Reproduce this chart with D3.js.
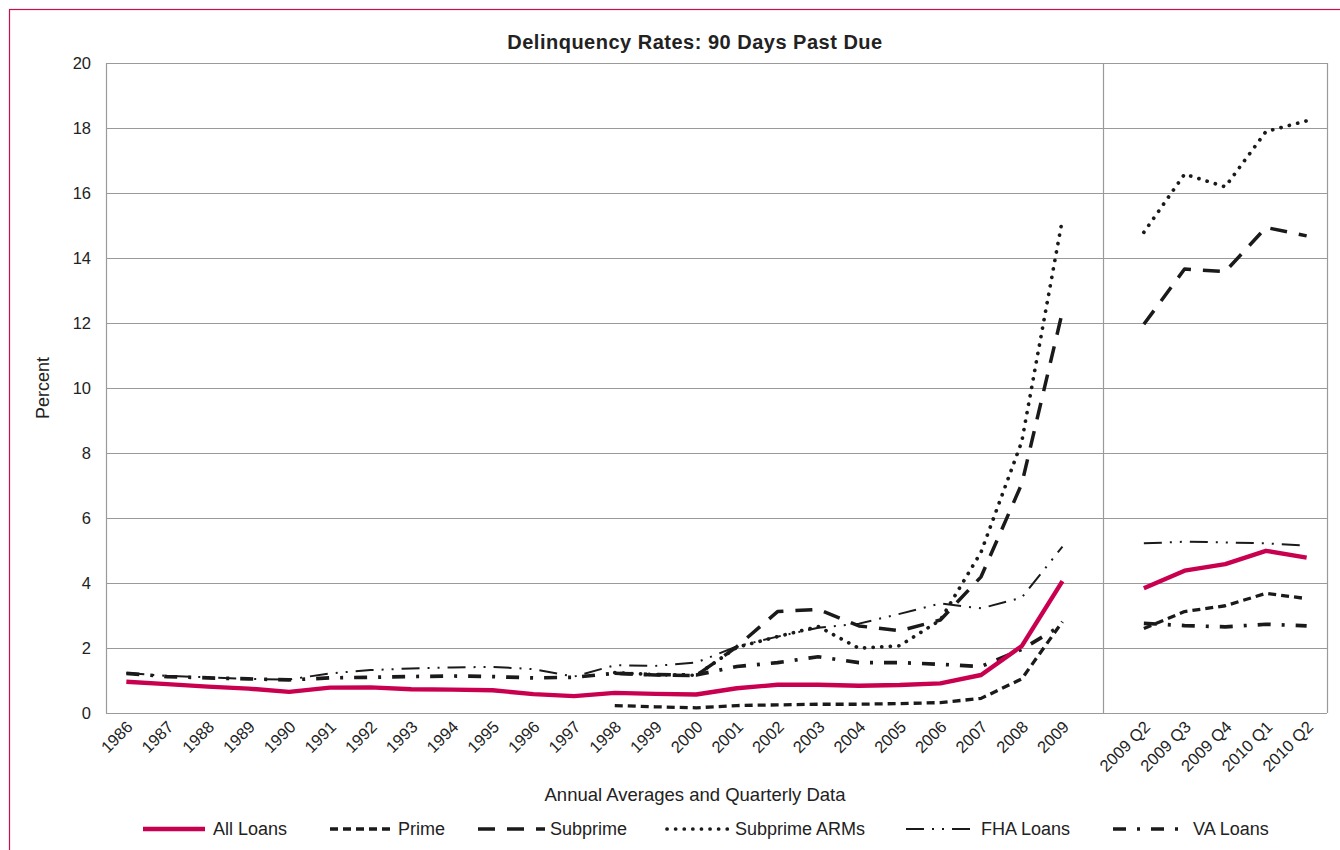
<!DOCTYPE html>
<html><head><meta charset="utf-8">
<script src="https://cdn.jsdelivr.net/npm/d3@7"></script>
<style>body{margin:0;background:#fff}svg{display:block}text{font-family:"Liberation Sans",Arial,Helvetica,sans-serif;fill:#222}</style>
</head><body><svg id="c" width="1340" height="850"></svg>
<script>
const years = ["1986","1987","1988","1989","1990","1991","1992","1993","1994","1995","1996","1997","1998","1999","2000","2001","2002","2003","2004","2005","2006","2007","2008","2009"];
const quarters = ["2009 Q2","2009 Q3","2009 Q4","2010 Q1","2010 Q2"];
const yTicks = [0,2,4,6,8,10,12,14,16,18,20];

const allLoansAnnual = [0.96,0.89,0.81,0.75,0.65,0.78,0.79,0.73,0.72,0.70,0.58,0.52,0.62,0.59,0.57,0.76,0.87,0.87,0.84,0.86,0.91,1.17,2.06,4.06];
const allLoansQ = [3.84,4.38,4.58,4.99,4.78];
const primeAnnual = [null,null,null,null,null,null,null,null,null,null,null,null,0.23,0.19,0.16,0.23,0.25,0.27,0.27,0.29,0.32,0.45,1.05,2.81];
const primeQ = [2.60,3.12,3.30,3.68,3.52];
const subprimeAnnual = [null,null,null,null,null,null,null,null,null,null,null,null,1.22,1.17,1.15,2.04,3.12,3.19,2.68,2.53,2.86,4.19,7.05,12.35];
const subprimeQ = [11.96,13.66,13.58,14.94,14.68];
const armsAnnual = [null,null,null,null,null,null,null,null,null,null,null,null,1.24,1.18,1.16,2.02,2.35,2.66,1.99,2.07,2.86,4.95,8.35,15.2];
const armsQ = [14.79,16.58,16.19,17.89,18.22];
const fhaAnnual = [1.23,1.14,1.10,1.05,1.03,1.22,1.32,1.37,1.40,1.42,1.35,1.12,1.47,1.45,1.55,2.05,2.35,2.62,2.75,3.05,3.37,3.22,3.55,5.12];
const fhaQ = [5.22,5.27,5.25,5.22,5.15];
const vaAnnual = [1.22,1.12,1.08,1.05,1.02,1.08,1.10,1.12,1.14,1.12,1.08,1.10,1.22,1.18,1.17,1.43,1.55,1.73,1.55,1.55,1.50,1.43,1.96,2.71];
const vaQ = [2.76,2.69,2.65,2.73,2.68];

const seriesNames = ["All Loans","Prime","Subprime","Subprime ARMs","FHA Loans","VA Loans"];

const svg = d3.select("#c");
const M = {left:106, right:1327, top:63, bottom:713};
const cats = [...years, "__gap__", ...quarters];
const x = d3.scalePoint().domain(cats).range([M.left, M.right]).padding(0.5);
const y = d3.scaleLinear().domain([0,20]).range([M.bottom, M.top]);

// outer border
svg.append("rect").attr("x",9.5).attr("y",9.5).attr("width",1340).attr("height",850)
  .attr("fill","none").attr("stroke","#C8104F").attr("stroke-width",1.2);

// gridlines
svg.append("g").selectAll("line").data(yTicks).join("line")
  .attr("x1",M.left).attr("x2",M.right).attr("y1",d=>y(d)+0.5).attr("y2",d=>y(d)+0.5)
  .attr("stroke","#9a9a9a").attr("stroke-width",1.2);
const gapX = x("__gap__");
[M.left, M.right, gapX].forEach(v=>{
  svg.append("line").attr("x1",Math.round(v)+0.5).attr("x2",Math.round(v)+0.5).attr("y1",M.top).attr("y2",M.bottom)
    .attr("stroke","#9a9a9a").attr("stroke-width",1.2);
});

// y axis
const yAxis = d3.axisLeft(y).tickValues(yTicks).tickSize(0).tickPadding(15);
const gy = svg.append("g").attr("transform",`translate(${M.left},0)`).call(yAxis);
gy.select(".domain").remove();
gy.selectAll("text").attr("font-size",16.5).style("font-family","'Liberation Sans',Arial,sans-serif").attr("fill","#222");

// x axis
const xAxis = d3.axisBottom(x).tickValues([...years,...quarters]).tickSize(0).tickPadding(0);
const gx = svg.append("g").attr("transform",`translate(0,${M.bottom})`).call(xAxis);
gx.select(".domain").remove();
gx.selectAll("text").attr("font-size",16.5).style("font-family","'Liberation Sans',Arial,sans-serif").attr("fill","#222")
  .attr("text-anchor","end").attr("dy",0).attr("y",0)
  .attr("transform","translate(7,15) rotate(-45)");

// titles
svg.append("text").attr("x",695).attr("y",49).attr("text-anchor","middle").attr("font-size",20).attr("font-weight","bold")
  .attr("letter-spacing",0.5).text("Delinquency Rates: 90 Days Past Due");
svg.append("text").attr("transform","translate(49,388) rotate(-90)").attr("text-anchor","middle").attr("font-size",18).text("Percent");
svg.append("text").attr("x",695).attr("y",801).attr("text-anchor","middle").attr("font-size",18.5).text("Annual Averages and Quarterly Data");

const styles = [
  {name:"All Loans", a:allLoansAnnual, q:allLoansQ, color:"#C8004F", w:4.4, dash:null, cap:"butt"},
  {name:"Prime", a:primeAnnual, q:primeQ, color:"#1a1a1a", w:3.3, dash:"8 5", cap:"butt"},
  {name:"Subprime", a:subprimeAnnual, q:subprimeQ, color:"#1a1a1a", w:3.5, dash:"17 12", cap:"butt"},
  {name:"Subprime ARMs", a:armsAnnual, q:armsQ, color:"#1a1a1a", w:3.7, dash:"0.1 8.5", cap:"round"},
  {name:"FHA Loans", a:fhaAnnual, q:fhaQ, color:"#1a1a1a", w:2, dash:"18 8 2 8 2 8", cap:"butt"},
  {name:"VA Loans", a:vaAnnual, q:vaQ, color:"#1a1a1a", w:3.7, dash:"13 11 3 11", cap:"butt"}
];

const line = d3.line().defined(d=>d.v!=null).x(d=>x(d.c)).y(d=>y(d.v));
const order = [4,5,1,2,3,0];
order.forEach(i=>{
  const s = styles[i];
  const segs = [years.map((c,k)=>({c, v:s.a[k]})), quarters.map((c,k)=>({c, v:s.q[k]}))];
  segs.forEach(seg=>{
    svg.append("path").datum(seg).attr("d",line).attr("fill","none")
      .attr("stroke",s.color).attr("stroke-width",s.w)
      .attr("stroke-dasharray",s.dash).attr("stroke-linecap",s.cap).attr("stroke-linejoin","round");
  });
});

// legend
const legPos = [
  {sx:143, ex:205, tx:213},
  {sx:330, ex:394, tx:398},
  {sx:478, ex:545, tx:550},
  {sx:667, ex:728, tx:735},
  {sx:906, ex:970, tx:981},
  {sx:1113, ex:1178, tx:1193}
];
const legY = 829;
styles.forEach((s,i)=>{
  const p = legPos[i];
  svg.append("line").attr("x1",p.sx).attr("x2",p.ex).attr("y1",legY).attr("y2",legY)
    .attr("stroke",s.color).attr("stroke-width",s.w).attr("stroke-dasharray",s.dash).attr("stroke-linecap",s.cap);
  svg.append("text").attr("x",p.tx).attr("y",legY+6).attr("font-size",18).text(s.name);
});
</script></body></html>
